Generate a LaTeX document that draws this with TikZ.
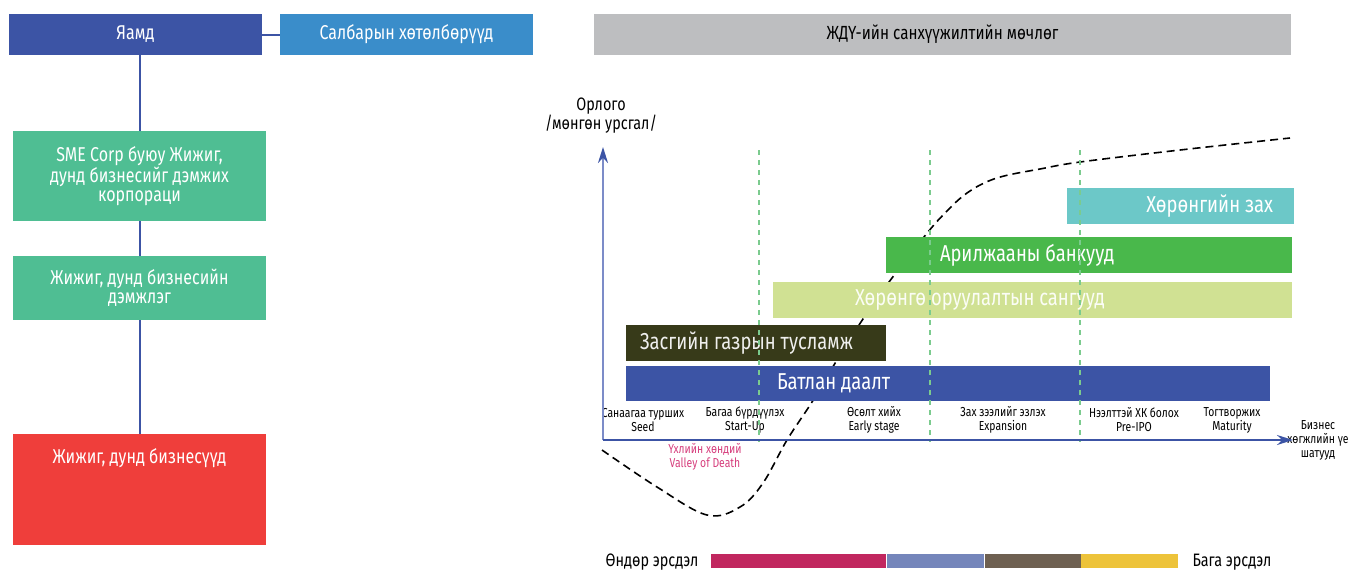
\documentclass[tikz,border=0pt]{standalone}
\usepackage{fontspec}
\setmainfont[FakeStretch=0.8]{Fira Sans}
\usetikzlibrary{positioning,arrows.meta}
\definecolor{yamdblue}{HTML}{3C54A5}
\definecolor{salbarblue}{HTML}{3A8DCA}
\definecolor{corpgreen}{HTML}{4FBE93}
\definecolor{smered}{HTML}{EF3E3B}
\definecolor{titlegray}{HTML}{BDBEC0}
\definecolor{zaxteal}{HTML}{6CC8C8}
\definecolor{bankgreen}{HTML}{49B84B}
\definecolor{fundlime}{HTML}{D0E193}
\definecolor{govolive}{HTML}{373A19}
\definecolor{axislight}{HTML}{7C8CC8}
\definecolor{phasegreen}{HTML}{7BCB8E}
\definecolor{valleypink}{HTML}{D63F7D}
\definecolor{riskA}{HTML}{C1275F}
\definecolor{riskB}{HTML}{7586BB}
\definecolor{riskC}{HTML}{6E6051}
\definecolor{riskD}{HTML}{EDC33A}
\begin{document}
\begin{tikzpicture}[x=0.5pt,y=-0.5pt,
                    box/.style={minimum width=126.5pt, inner sep=0pt, text=white, align=center, font=\fontsize{10}{9.5}\selectfont},
                    link/.style={draw=yamdblue, line width=1pt},
                    bar/.style={minimum height=18pt, inner sep=0pt},
                    bartext/.style={inner sep=0pt, text=white, font=\fontsize{11.5}{12}\selectfont},
                    stage/.style={align=center, inner sep=0pt, font=\fontsize{6.5}{7}\selectfont},
                    phase/.style={draw=phasegreen, dash pattern=on 2.5pt off 2.5pt, line width=0.75pt},
                    lifecurve/.style={draw=black, dash pattern=on 4pt off 2.5pt, line width=0.8pt},
                    risk/.style={minimum height=7pt, inner sep=0pt},
                    risktext/.style={inner sep=0pt, font=\fontsize{9}{10}\selectfont}]
                    \useasboundingbox (0,0) rectangle (1354,570);

                    \node[box, fill=yamdblue, minimum height=20.5pt] (yamd) at (135.5,34.5) {Яамд};
                    \node[box, fill=salbarblue, minimum height=20.5pt] (salbar) at (406.5,34.5) {Салбарын хөтөлбөрүүд};
                    \node[box, fill=corpgreen, minimum height=45pt] (corp) at (139.5,176) {SME Corp буюу Жижиг,\\дунд бизнесийг дэмжих\\корпораци};
                    \node[box, fill=corpgreen, minimum height=32pt] (demjleg) at (139.5,288) {Жижиг, дунд бизнесийн\\дэмжлэг};
                    \node[box, fill=smered, minimum height=55.5pt] (biznes) at (139.5,489.5) {};
                    \node[box, minimum width=0pt] (biznestxt) at (139.5,458) {Жижиг, дунд бизнесүүд};

                    \draw[link] (yamd) -- (salbar);
                    \draw[link] (corp.north |- yamd.south) -- (corp.north);
                    \draw[link] (corp) -- (demjleg);
                    \draw[link] (demjleg) -- (biznes);

                    \node[fill=titlegray, minimum width=348.5pt, minimum height=20.5pt, inner sep=0pt, font=\fontsize{9.5}{10}\selectfont] (title) at (942.5,34.5) {ЖДҮ-ийн санхүүжилтийн мөчлөг};
                    \node[align=center, inner sep=0pt, font=\fontsize{9}{9.5}\selectfont] (orlogo) at (601,116) {Орлого\\/мөнгөн урсгал/};

                    \draw[lifecurve] plot[smooth, tension=0.6] coordinates {(602,450) (657,487) (707,515) (740,507) (763,483) (787,440) (812,402) (837,360) (863,319) (892,278) (928,232) (946,212) (963,196) (982,184) (1004,176) (1040,169) (1080,162) (1180,150) (1290,138)};

                    \node[bar, fill=zaxteal, minimum width=113.5pt] (zax) at (1180.5,206) {};
                    \node[bar, fill=bankgreen, minimum width=203pt] (bank) at (1089,255) {};
                    \node[bar, fill=fundlime, minimum width=259.5pt] (fund) at (1032.5,300) {};
                    \node[bar, fill=govolive, minimum width=130pt] (gov) at (756,343) {};
                    \node[bar, fill=yamdblue, minimum width=322pt, minimum height=17.5pt] (guarantee) at (948,383.5) {};

                    \node[bartext, left=10.5pt of zax.east] (zaxtxt) {Хөрөнгийн зах};
                    \node[bartext, right=27pt of bank.west] (banktxt) {Арилжааны банкууд};
                    \node[bartext, right=41pt of fund.west, text=white!92!fundlime] (fundtxt) {Хөрөнгө оруулалтын сангууд};
                    \node[bartext, right=7pt of gov.west, text=white!92!govolive] (govtxt) {Засгийн газрын тусламж};
                    \node[bartext, right=75.5pt of guarantee.west] (guaranteetxt) {Батлан даалт};

                    \node[stage] (seed) at (643,420) {Санаагаа турших\\Seed};
                    \node[stage] (startup) at (745,420) {Багаа бүрдүүлэх\\Start-Up};
                    \node[stage] (early) at (874,420) {Өсөлт хийх\\Early stage};
                    \node[stage] (expansion) at (1003,420) {Зах зээлийг эзлэх\\Expansion};
                    \node[stage] (preipo) at (1134,420) {Нээлттэй ХК болох\\Pre-IPO};
                    \node[stage] (maturity) at (1232,420) {Тогтворжих\\Maturity};
                    \node[stage, text=valleypink] (valley) at (705,457) {Үхлийн хөндий\\Valley of Death};
                    \node[stage] (stages) at (1318,440) {Бизнес\\хөгжлийн үе\\шатууд};

                    \draw[phase] (759,150) -- (759,442);
                    \draw[phase] (930,150) -- (930,442);
                    \draw[phase] (1080,150) -- (1080,442);

                    \coordinate (origin) at (603,440);
                    \coordinate (ytip) at (603,147);
                    \coordinate (xtip) at (1293,440);
                    \draw[draw=axislight, line width=1pt, -{Stealth[length=8pt, width=5pt, color=yamdblue]}] (origin) -- (ytip);
                    \draw[draw=yamdblue, line width=1pt, -{Stealth[length=8pt, width=5pt]}] (origin) -- (xtip);

                    \node[risktext] (high) at (652,562) {Өндөр эрсдэл};
                    \node[risk, fill=riskA, minimum width=87.5pt] (r1) at (798.5,561) {};
                    \node[risk, fill=riskB, minimum width=48.5pt, right=0pt of r1] (r2) {};
                    \node[risk, fill=riskC, minimum width=48pt, right=0pt of r2] (r3) {};
                    \node[risk, fill=riskD, minimum width=48.5pt, right=0pt of r3] (r4) {};
                    \node[risktext] (low) at (1232,562) {Бага эрсдэл};
                \end{tikzpicture}
\end{document}
